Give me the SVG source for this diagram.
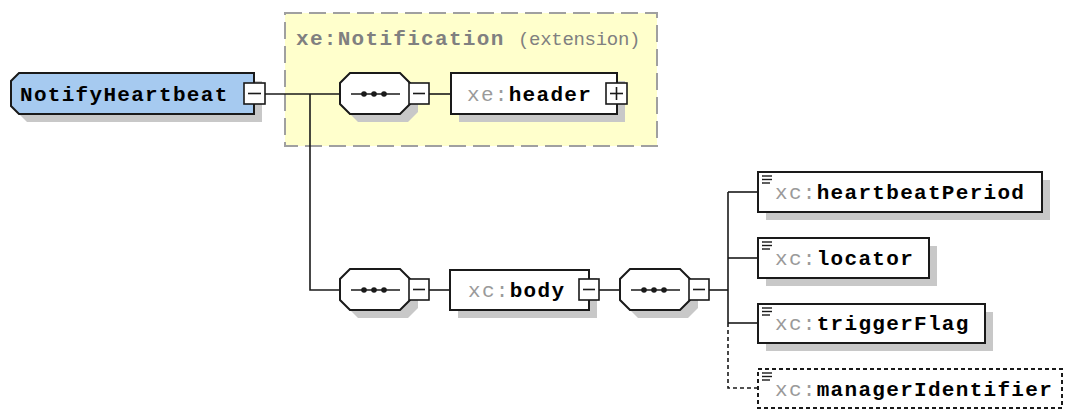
<svg xmlns="http://www.w3.org/2000/svg" width="1067" height="412" viewBox="0 0 1067 412">
<defs>
<style>
.bg{fill:#ffffff}
.ext{fill:#ffffcc;stroke:#a0a0a0;stroke-width:2;stroke-dasharray:17,7}
.sh{fill:#c8c8c8;stroke:none}
.box{fill:#ffffff;stroke:#1a1a1a;stroke-width:2}
.opt{fill:#ffffff;stroke:#1a1a1a;stroke-width:2;stroke-dasharray:4,3}
.root{fill:#a6caf0;stroke:#1a1a1a;stroke-width:2}
.btn{fill:#ffffff;stroke:#1a1a1a;stroke-width:1.6}
.sym{stroke:#1a1a1a;stroke-width:1.6;fill:none}
.ln{stroke:#1a1a1a;stroke-width:1.6;fill:none}
.dln{stroke:#1a1a1a;stroke-width:1.6;fill:none;stroke-dasharray:4,3}
.t{font-family:"Liberation Mono","DejaVu Sans Mono",monospace;font-size:21px;font-weight:bold;letter-spacing:1.3px;fill:#000}
.ns{fill:#9a9a9a;font-weight:normal}
.title{font-family:"Liberation Mono","DejaVu Sans Mono",monospace;font-size:21px;font-weight:bold;letter-spacing:1.3px;fill:#808080}
.titlen{font-family:"Liberation Mono","DejaVu Sans Mono",monospace;font-size:19px;letter-spacing:-0.3px;fill:#808080}
.dot{fill:#1a1a1a}
</style>
<g id="seq">
<polygon class="sh" points="358,81 408,81 418,91 418,112 408,122 358,122 348,112 348,91"/>
<polygon class="box" points="350,73 400,73 410,83 410,104 400,114 350,114 340,104 340,83"/>
<line class="ln" x1="351" y1="94" x2="400" y2="94"/>
<circle class="dot" cx="364" cy="94" r="2.8"/>
<circle class="dot" cx="374" cy="94" r="2.8"/>
<circle class="dot" cx="384" cy="94" r="2.8"/>
</g>
<g id="icon">
<line x1="762" y1="0" x2="772" y2="0" stroke="#1a1a1a" stroke-width="1.4"/>
<line x1="762" y1="3.5" x2="772" y2="3.5" stroke="#1a1a1a" stroke-width="1.4"/>
<line x1="762" y1="7" x2="770" y2="7" stroke="#1a1a1a" stroke-width="1.4"/>
</g>
</defs>
<rect class="bg" x="0" y="0" width="1067" height="412"/>

<g id="extension">
<rect class="ext" x="285" y="13" width="372" height="133"/>
<text x="296" y="45"><tspan class="title">xe:Notification</tspan><tspan class="titlen" x="518">(extension)</tspan></text>
</g>

<g id="connectors">
<line class="ln" x1="265" y1="94" x2="340" y2="94"/>
<polyline class="ln" points="310,94 310,290 340,290"/>
<line class="ln" x1="429" y1="94" x2="451" y2="94"/>
<line class="ln" x1="429" y1="290" x2="450" y2="290"/>
<line class="ln" x1="599" y1="290" x2="620" y2="290"/>
<line class="ln" x1="709" y1="290" x2="728" y2="290"/>
<line class="ln" x1="728" y1="192" x2="728" y2="323"/>
<line class="ln" x1="728" y1="192" x2="758" y2="192"/>
<line class="ln" x1="728" y1="258" x2="758" y2="258"/>
<line class="ln" x1="728" y1="323" x2="758" y2="323"/>
<polyline class="dln" points="728,323 728,388 758,388"/>
</g>

<g id="NotifyHeartbeat">
<polygon class="sh" points="27,81 262,81 262,122 27,122 19,114 19,89"/>
<polygon class="root" points="19,73 254,73 254,114 19,114 11,106 11,81"/>
<text class="t" x="20" y="101">NotifyHeartbeat</text>
<rect class="btn" x="244" y="83" width="21" height="21"/>
<line class="sym" x1="248" y1="93.5" x2="261" y2="93.5"/>
</g>

<g id="sequence1">
<use href="#seq"/>
<rect class="btn" x="409" y="83" width="20" height="21"/>
<line class="sym" x1="413" y1="93.5" x2="425" y2="93.5"/>
</g>

<g id="header">
<rect class="sh" x="459" y="81" width="166" height="41"/>
<rect class="box" x="451" y="73" width="166" height="41"/>
<text class="t" x="467" y="101"><tspan class="ns">xe:</tspan>header</text>
<rect class="btn" x="606" y="83" width="21" height="21"/>
<line class="sym" x1="610" y1="93.5" x2="623" y2="93.5"/>
<line class="sym" x1="616.5" y1="87" x2="616.5" y2="100"/>
</g>

<g id="sequence2">
<use href="#seq" transform="translate(0,196)"/>
<rect class="btn" x="409" y="279" width="20" height="21"/>
<line class="sym" x1="413" y1="289.5" x2="425" y2="289.5"/>
</g>

<g id="body">
<rect class="sh" x="458" y="278" width="139" height="40"/>
<rect class="box" x="450" y="270" width="139" height="40"/>
<text class="t" x="468" y="297"><tspan class="ns">xc:</tspan>body</text>
<rect class="btn" x="579" y="279" width="20" height="21"/>
<line class="sym" x1="583" y1="289.5" x2="595" y2="289.5"/>
</g>

<g id="sequence3">
<use href="#seq" transform="translate(280,196)"/>
<rect class="btn" x="689" y="279" width="20" height="21"/>
<line class="sym" x1="693" y1="289.5" x2="705" y2="289.5"/>
</g>

<g id="heartbeatPeriod">
<rect class="sh" x="766" y="180" width="284" height="40"/>
<rect class="box" x="758" y="172" width="284" height="40"/>
<use href="#icon" transform="translate(0,176)"/>
<text class="t" x="775" y="199"><tspan class="ns">xc:</tspan>heartbeatPeriod</text>
</g>

<g id="locator">
<rect class="sh" x="766" y="246" width="171" height="40"/>
<rect class="box" x="758" y="238" width="171" height="40"/>
<use href="#icon" transform="translate(0,242)"/>
<text class="t" x="775" y="265"><tspan class="ns">xc:</tspan>locator</text>
</g>

<g id="triggerFlag">
<rect class="sh" x="766" y="312" width="227" height="39"/>
<rect class="box" x="758" y="304" width="227" height="39"/>
<use href="#icon" transform="translate(0,308)"/>
<text class="t" x="775" y="330"><tspan class="ns">xc:</tspan>triggerFlag</text>
</g>

<g id="managerIdentifier">
<rect class="opt" x="758" y="369" width="304" height="39"/>
<use href="#icon" transform="translate(0,373)"/>
<text class="t" x="775" y="396"><tspan class="ns">xc:</tspan>managerIdentifier</text>
</g>
</svg>
